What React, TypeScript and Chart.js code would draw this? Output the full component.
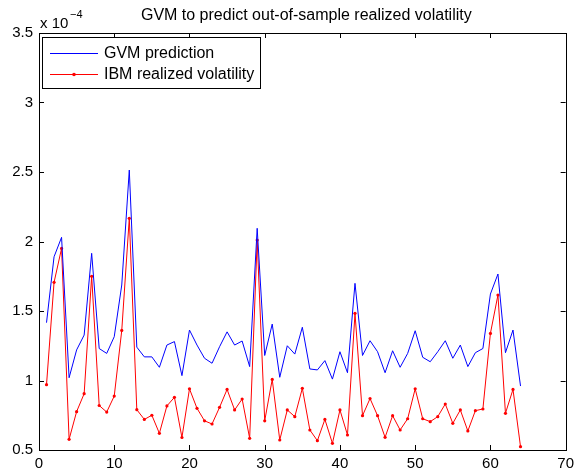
import React, { useEffect, useRef } from "react";
import { Chart, registerables } from "chart.js";

Chart.register(...registerables);

const days = [1,2,3,4,5,6,7,8,9,10,11,12,13,14,15,16,17,18,19,20,21,22,23,24,25,26,27,28,29,30,31,32,33,34,35,36,37,38,39,40,41,42,43,44,45,46,47,48,49,50,51,52,53,54,55,56,57,58,59,60,61,62,63,64];

const gvmPrediction = [1.416,1.89,2.03,1.02,1.22,1.327,1.915,1.23,1.195,1.315,1.687,2.514,1.24,1.17,1.17,1.095,1.255,1.28,1.035,1.363,1.255,1.16,1.124,1.243,1.35,1.255,1.284,1.1,2.095,1.18,1.406,1.023,1.25,1.19,1.383,1.083,1.076,1.143,1.01,1.207,1.056,1.699,1.18,1.286,1.207,1.056,1.214,1.095,1.195,1.358,1.167,1.135,1.207,1.286,1.16,1.255,1.1,1.2,1.23,1.622,1.766,1.2,1.363,0.96];

const ibmRealized = [0.97,1.706,1.95,0.577,0.776,0.905,1.75,0.82,0.773,0.888,1.36,2.167,0.79,0.72,0.75,0.62,0.817,0.879,0.59,0.94,0.80,0.71,0.687,0.807,0.936,0.788,0.867,0.584,2.01,0.71,1.008,0.572,0.788,0.74,0.944,0.644,0.567,0.72,0.548,0.788,0.608,1.483,0.747,0.87,0.747,0.591,0.747,0.644,0.725,0.94,0.725,0.704,0.74,0.831,0.692,0.788,0.637,0.783,0.795,1.339,1.615,0.764,0.936,0.524];

const xTicks = [0,10,20,30,40,50,60,70];
const yTicks = [0.5,1,1.5,2,2.5,3,3.5];

const titleText = "GVM to predict out-of-sample realized volatility";
const seriesNames = ["GVM prediction", "IBM realized volatility"];
const FONT = "Liberation Sans, Arial, sans-serif";

const framePlugin = {
  id: "matlabFrame",
  afterDraw(chart: any) {
    const { ctx, chartArea } = chart;
    const { left, right, top, bottom } = chartArea;
    const xs = chart.scales.x;
    const ys = chart.scales.y;
    ctx.save();
    ctx.strokeStyle = "#000";
    ctx.lineWidth = 1;
    ctx.strokeRect(Math.round(left) + 0.5, Math.round(top) + 0.5, Math.round(right - left), Math.round(bottom - top));
    const tl = 5;
    ctx.beginPath();
    xTicks.forEach((v) => {
      const px = Math.round(xs.getPixelForValue(v)) + 0.5;
      ctx.moveTo(px, bottom);
      ctx.lineTo(px, bottom - tl);
      ctx.moveTo(px, top);
      ctx.lineTo(px, top + tl);
    });
    yTicks.forEach((v) => {
      const py = Math.round(ys.getPixelForValue(v)) + 0.5;
      ctx.moveTo(left, py);
      ctx.lineTo(left + tl, py);
      ctx.moveTo(right, py);
      ctx.lineTo(right - tl, py);
    });
    ctx.stroke();

    // title
    ctx.fillStyle = "#000";
    ctx.font = `16px ${FONT}`;
    ctx.textAlign = "center";
    ctx.textBaseline = "alphabetic";
    ctx.fillText(titleText, (left + right) / 2 + 4, 20);

    // exponent label
    ctx.textAlign = "left";
    ctx.font = `15px ${FONT}`;
    ctx.fillText("x 10", left + 1, 28);
    ctx.font = `11px ${FONT}`;
    ctx.fillText("\u22124", left + 31, 18);

    // legend
    const lx = left + 3, ly = top + 4, lw = 218, lh = 51;
    ctx.fillStyle = "#fff";
    ctx.fillRect(lx, ly, lw, lh);
    ctx.strokeStyle = "#000";
    ctx.strokeRect(Math.round(lx) + 0.5, Math.round(ly) + 0.5, lw, lh);
    const rows = [
      { y: ly + 16, color: "#0000ff", marker: false },
      { y: ly + 37, color: "#ff0000", marker: true },
    ];
    rows.forEach((r, i) => {
      ctx.strokeStyle = r.color;
      ctx.beginPath();
      ctx.moveTo(lx + 8, r.y + 0.5);
      ctx.lineTo(lx + 56, r.y + 0.5);
      ctx.stroke();
      if (r.marker) {
        ctx.fillStyle = r.color;
        ctx.beginPath();
        ctx.arc(lx + 32, r.y + 0.5, 1.8, 0, Math.PI * 2);
        ctx.fill();
      }
      ctx.fillStyle = "#000";
      ctx.font = `16px ${FONT}`;
      ctx.textBaseline = "middle";
      ctx.fillText(seriesNames[i], lx + 62, r.y + 1);
    });
    ctx.restore();
  },
};

export default function App() {
  const ref = useRef<HTMLCanvasElement | null>(null);
  useEffect(() => {
    if (!ref.current) return;
    const chart = new Chart(ref.current, {
      type: "line",
      data: {
        datasets: [
          {
            label: seriesNames[0],
            data: days.map((d, i) => ({ x: d, y: gvmPrediction[i] })),
            borderColor: "#0000ff",
            borderWidth: 1,
            pointRadius: 0,
            tension: 0,
          },
          {
            label: seriesNames[1],
            data: days.map((d, i) => ({ x: d, y: ibmRealized[i] })),
            borderColor: "#ff0000",
            backgroundColor: "#ff0000",
            borderWidth: 1,
            pointRadius: 1.6,
            pointBorderWidth: 0,
            pointBackgroundColor: "#ff0000",
            tension: 0,
          },
        ],
      },
      options: {
        responsive: false,
        animation: false,
        layout: { padding: { left: 0, right: 11, top: 33, bottom: 0 } },
        plugins: { legend: { display: false }, title: { display: false }, tooltip: { enabled: false } },
        scales: {
          x: {
            type: "linear",
            min: 0,
            max: 70,
            afterBuildTicks: (s: any) => { s.ticks = xTicks.map((v) => ({ value: v })); },
            afterFit: (s: any) => { s.height = 26; },
            grid: { display: false, drawTicks: false },
            border: { display: false },
            ticks: { color: "#000", font: { family: FONT, size: 15 }, padding: 5, maxRotation: 0, callback: (v: any) => String(Number(v)) },
          },
          y: {
            type: "linear",
            min: 0.5,
            max: 3.5,
            afterBuildTicks: (s: any) => { s.ticks = yTicks.map((v) => ({ value: v })); },
            afterFit: (s: any) => { s.width = 39; },
            grid: { display: false, drawTicks: false },
            border: { display: false },
            ticks: { color: "#000", font: { family: FONT, size: 15 }, padding: 6, callback: (v: any) => String(Number(v)) },
          },
        },
      },
      plugins: [framePlugin],
    });
    return () => chart.destroy();
  }, []);
  return (
    <div style={{ position: "fixed", left: 0, top: 0, width: 579, height: 476, background: "#fff" }}>
      <canvas ref={ref} width={579} height={476} />
    </div>
  );
}
